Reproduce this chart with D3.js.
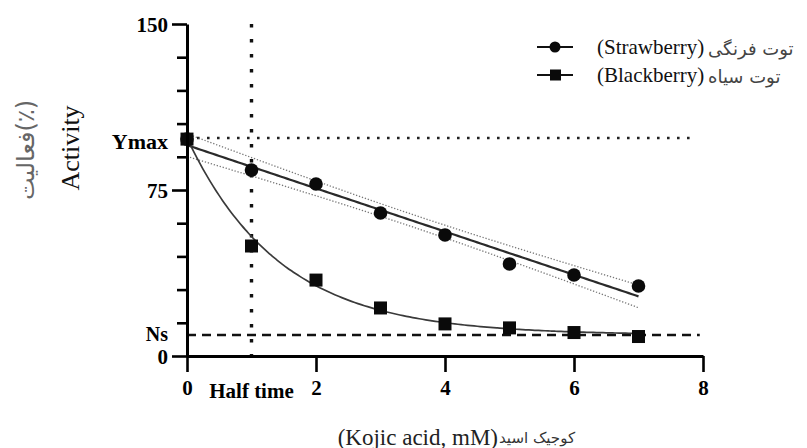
<!DOCTYPE html>
<html>
<head>
<meta charset="utf-8">
<script src="https://cdn.jsdelivr.net/npm/d3@7"></script>
<style>
  html, body { margin: 0; padding: 0; background: #fff; }
  svg { display: block; }
</style>
</head>
<body>
<svg id="chart" width="807" height="448"></svg>
<script>
// Kojic acid concentration (mM)
const concentrations = [0, 1, 2, 3, 4, 5, 6, 7];
// Remaining enzyme activity (%)
const strawberry = [98, 84, 77.7, 64.6, 54.7, 41.6, 36.6, 31.6];
const blackberry = [98, 49.7, 34.3, 21.7, 14.5, 12.7, 10.6, 8.8];

const seriesLatin = ["(Strawberry)", "(Blackberry)"];
const seriesPersian = ["توت فرنگی", "توت سیاه"];
const yTickValues = [0, 15, 30, 45, 60, 75, 90, 105, 120, 135, 150];
const yLabelled = [0, 75, 150];
const xTickValues = [0, 2, 4, 6, 8];

// Reference levels of the one-phase decay fit
const yMax = 98.5;
const nsPlateau = 9.5;
const halfTime = 1;

const SERIF = "'Liberation Serif', 'Times New Roman', serif";
const ARABIC = "'DejaVu Sans', sans-serif";

const svg = d3.select("#chart");
const x = d3.scaleLinear().domain([0, 8]).range([187, 703]);
const y = d3.scaleLinear().domain([0, 150]).range([356, 24]);

// ---- reference lines ----
svg.append("line")
  .attr("x1", x(0)).attr("x2", x(7.9))
  .attr("y1", y(yMax)).attr("y2", y(yMax))
  .attr("stroke", "#222").attr("stroke-width", 2.6)
  .attr("stroke-dasharray", "2.6,7.4");

svg.append("line")
  .attr("x1", x(0)).attr("x2", x(7.95))
  .attr("y1", y(nsPlateau)).attr("y2", y(nsPlateau))
  .attr("stroke", "#111").attr("stroke-width", 2.6)
  .attr("stroke-dasharray", "9,6");

svg.append("line")
  .attr("x1", x(halfTime)).attr("x2", x(halfTime))
  .attr("y1", y(150)).attr("y2", y(0))
  .attr("stroke", "#111").attr("stroke-width", 3.4)
  .attr("stroke-dasharray", "3.4,11.6");

// ---- linear regression for strawberry, with 95% confidence band ----
const n = concentrations.length;
const mx = d3.mean(concentrations);
const my = d3.mean(strawberry);
const sxx = d3.sum(concentrations, v => (v - mx) ** 2);
const sxy = d3.sum(concentrations, (v, i) => (v - mx) * (strawberry[i] - my));
const slope = sxy / sxx;
const intercept = my - slope * mx;
const sse = d3.sum(concentrations, (v, i) => (strawberry[i] - (intercept + slope * v)) ** 2);
const se = Math.sqrt(sse / (n - 2));
const tCrit = 2.447; // t(0.975, df = 6)

const xs = d3.range(0, 7.0001, 0.05);
const fitLine = d3.line().x(d => x(d[0])).y(d => y(d[1]));
const half = v => tCrit * se * Math.sqrt(1 / n + (v - mx) ** 2 / sxx);

[1, -1].forEach(sign => {
  svg.append("path")
    .attr("d", fitLine(xs.map(v => [v, intercept + slope * v + sign * half(v)])))
    .attr("fill", "none").attr("stroke", "#777").attr("stroke-width", 1.3)
    .attr("stroke-dasharray", "1.3,1.8");
});

svg.append("path")
  .attr("d", fitLine(xs.map(v => [v, intercept + slope * v])))
  .attr("fill", "none").attr("stroke", "#2a2a2a").attr("stroke-width", 2.2);

// ---- one-phase decay curve for blackberry ----
const k = Math.LN2 / halfTime;
svg.append("path")
  .attr("d", d3.line().curve(d3.curveBasis).x(d => x(d[0])).y(d => y(d[1]))(
    xs.map(v => [v, nsPlateau + (yMax - nsPlateau) * Math.exp(-k * v)])))
  .attr("fill", "none").attr("stroke", "#3a3a3a").attr("stroke-width", 1.7);

// ---- markers ----
svg.append("g").selectAll("circle")
  .data(concentrations.map((c, i) => [c, strawberry[i]]))
  .join("circle")
  .attr("cx", d => x(d[0])).attr("cy", d => y(d[1])).attr("r", 6.8)
  .attr("fill", "#0a0a0a");

const sq = 13;
svg.append("g").selectAll("rect")
  .data(concentrations.map((c, i) => [c, blackberry[i]]))
  .join("rect")
  .attr("x", d => x(d[0]) - sq / 2).attr("y", d => y(d[1]) - sq / 2)
  .attr("width", sq).attr("height", sq)
  .attr("fill", "#0a0a0a");

// ---- axes ----
const yAxis = d3.axisLeft(y)
  .tickValues(yTickValues)
  .tickSize(15)
  .tickSizeOuter(0)
  .tickPadding(4)
  .tickFormat(v => yLabelled.includes(v) ? v : "");
const gy = svg.append("g").attr("transform", `translate(${x(0)},0)`).call(yAxis);
gy.selectAll(".tick line")
  .attr("x2", v => yLabelled.includes(v) ? -15 : -10)
  .attr("stroke-width", 2.6);

const xAxis = d3.axisBottom(x)
  .tickValues(xTickValues)
  .tickSize(16)
  .tickSizeOuter(0)
  .tickPadding(10);
const gx = svg.append("g").attr("transform", `translate(0,${y(0)})`).call(xAxis);
gx.selectAll(".tick line").attr("stroke-width", 2.6);

[gx, gy].forEach(g => {
  g.attr("font-family", null);
  g.select(".domain").attr("stroke", "#000").attr("stroke-width", 3);
  g.selectAll("text")
    .attr("fill", "#000")
    .style("font-family", SERIF)
    .style("font-size", "21px")
    .style("font-weight", "bold");
});
gx.selectAll(".tick text").attr("dy", "0.62em");
gy.selectAll(".tick text").attr("dy", "0.36em");

// extra labels on the axes
const boldLabel = (txt, px, py, anchor, size) => svg.append("text")
  .attr("x", px).attr("y", py).attr("text-anchor", anchor)
  .attr("dominant-baseline", "central")
  .style("font-family", SERIF)
  .style("font-size", size + "px").style("font-weight", "bold")
  .attr("fill", "#000").text(txt);

boldLabel("Ymax", x(0) - 19, y(yMax) + 4, "end", 22);
boldLabel("Ns", x(0) - 19, y(nsPlateau) - 1, "end", 20);
boldLabel("Half time", x(halfTime), 391, "middle", 21);

// ---- axis titles ----
svg.append("text")
  .attr("transform", "translate(70,148) rotate(-90)")
  .attr("text-anchor", "middle").attr("dominant-baseline", "central")
  .style("font-family", SERIF)
  .style("font-size", "26px").attr("fill", "#111")
  .text("Activity");

svg.append("text")
  .attr("transform", "translate(26,150) rotate(-90)")
  .attr("text-anchor", "middle").attr("dominant-baseline", "central")
  .style("font-family", ARABIC)
  .style("font-size", "24px").attr("fill", "#666")
  .text("فعالیت(٪)");

// x-axis title: Latin and Persian parts side by side
svg.append("text")
  .attr("x", 498).attr("y", 437)
  .attr("text-anchor", "end").attr("dominant-baseline", "central")
  .style("font-family", SERIF)
  .style("font-size", "23px").attr("fill", "#222")
  .text("(Kojic acid, mM)");
svg.append("text")
  .attr("x", 499).attr("y", 438)
  .attr("text-anchor", "start").attr("dominant-baseline", "central")
  .style("font-family", ARABIC)
  .style("font-size", "15px").attr("fill", "#333")
  .text("کوجیک اسید");

// ---- legend ----
const legend = svg.append("g");
seriesLatin.forEach((name, i) => {
  const ly = 47 + i * 28;
  legend.append("line")
    .attr("x1", 537).attr("x2", 573).attr("y1", ly).attr("y2", ly)
    .attr("stroke", "#111").attr("stroke-width", 2.2);
  if (i === 0) {
    legend.append("circle").attr("cx", 555).attr("cy", ly).attr("r", 5.5).attr("fill", "#0a0a0a");
  } else {
    legend.append("rect").attr("x", 550).attr("y", ly - 5.5).attr("width", 11).attr("height", 11).attr("fill", "#0a0a0a");
  }
  legend.append("text")
    .attr("x", 597).attr("y", ly)
    .attr("dominant-baseline", "central")
    .style("font-family", SERIF)
    .style("font-size", "21px").attr("fill", "#111")
    .text(name);
  legend.append("text")
    .attr("x", 708).attr("y", ly + 1)
    .attr("dominant-baseline", "central")
    .style("font-family", ARABIC)
    .style("font-size", "18px").attr("fill", "#444")
    .text(seriesPersian[i]);
});
</script>
</body>
</html>
